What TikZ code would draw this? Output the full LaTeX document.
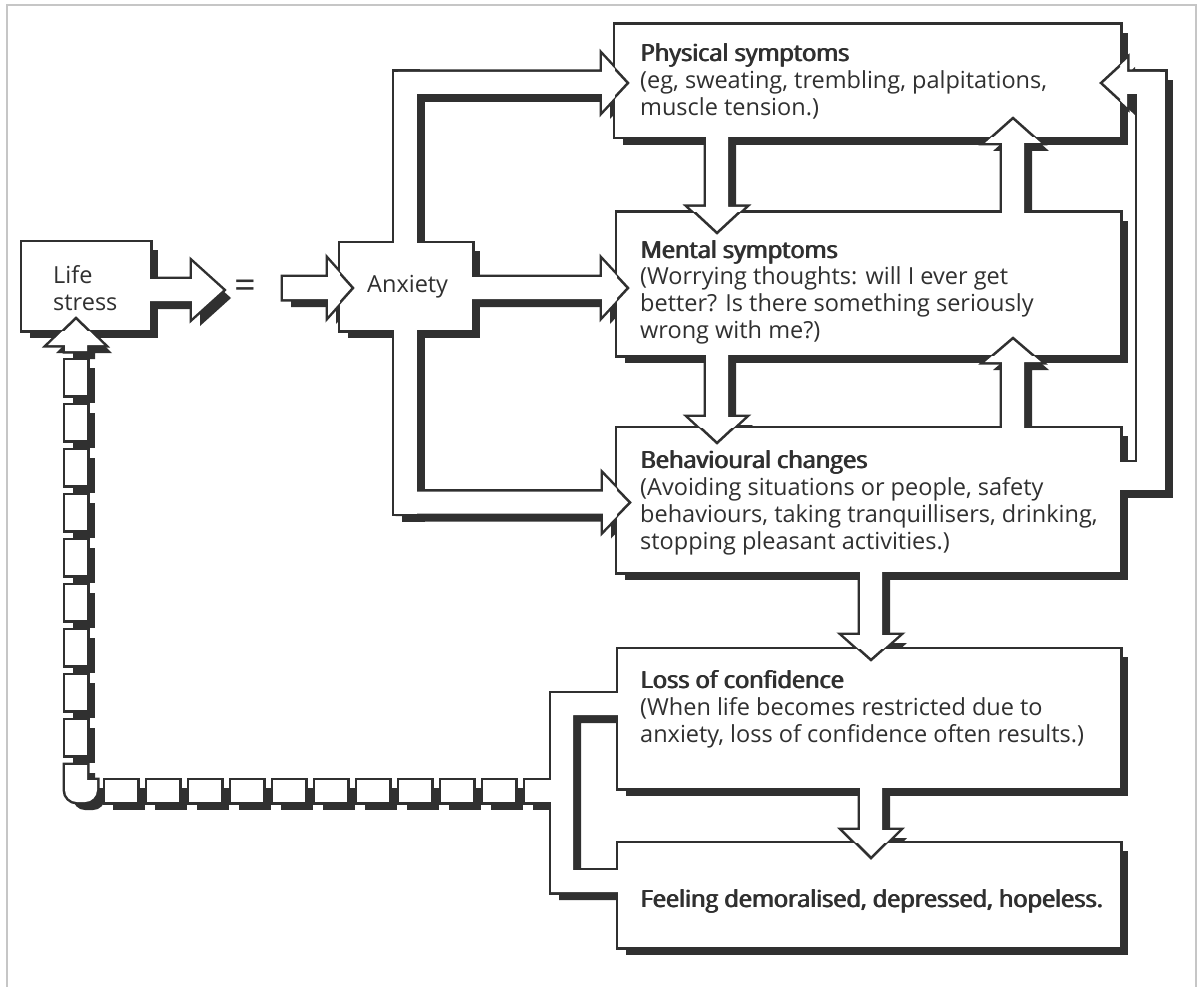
\documentclass[tikz,border=0pt]{standalone}
\usepackage{fontspec}
\setmainfont{Open Sans}
\definecolor{ink}{HTML}{303030}
\def\ArrS{11}\def\ArrH{28}
% vertical block arrow: x centre, y start, y head base, y tip
\newcommand{\varr}[4]{(#1-\ArrS,#2) -- (#1-\ArrS,#3) -- (#1-\ArrH,#3) -- (#1,#4) -- (#1+\ArrH,#3) -- (#1+\ArrS,#3) -- (#1+\ArrS,#2) -- cycle}
% horizontal block arrow: y centre, x start, x head base, x tip
\newcommand{\harr}[4]{(#2,#1-\ArrS) -- (#3,#1-\ArrS) -- (#3,#1-\ArrH) -- (#4,#1) -- (#3,#1+\ArrH) -- (#3,#1+\ArrS) -- (#2,#1+\ArrS) -- cycle}
\newcommand{\headV}[3]{(#1-\ArrH,#2) -- (#1,#3) -- (#1+\ArrH,#2)}
\newcommand{\headH}[3]{(#2,#1-\ArrH) -- (#3,#1) -- (#2,#1+\ArrH)}
% semi-bold titles (regular glyphs set twice, slightly offset)
\newcommand{\ttl}[1]{\rlap{#1}\rlap{\hspace{0.6pt}#1}\hspace{1.2pt}#1}
\newcommand{\allboxes}[1]{%
  \path[#1] (22,242) rectangle (150,330);   % life stress
  \path[#1] (340,243) rectangle (472,330);  % anxiety
  \path[#1] (615,25) rectangle (1120,137);  % physical
  \path[#1] (617,213) rectangle (1120,355); % mental
  \path[#1] (617,428) rectangle (1120,572); % behavioural
  \path[#1] (618,649) rectangle (1120,788); % loss of confidence
  \path[#1] (618,843) rectangle (1120,947); % feeling
}
\newcommand{\alllinks}[1]{%
  \path[#1] \harr{290}{145}{192}{223};
  \path[#1] \harr{288}{283}{328}{353};
  \path[#1] (394,72) rectangle (417,513.5);
  \path[#1] \harr{83}{398}{602}{628};
  \path[#1] \harr{288}{465}{602}{628};
  \path[#1] \harr{502.5}{398}{603}{630};
  \path[#1] \varr{717}{132}{207}{233};
  \path[#1] \varr{717}{350}{417}{443};
  \path[#1] \varr{871}{567}{635}{660};
  \path[#1] \varr{871}{783}{830}{858};
  \path[#1] \varr{1013}{218}{143}{118};
  \path[#1] \varr{1013}{433}{362}{338};
  \path[#1] (1115,462) rectangle (1165,490);
  \path[#1] (1137,72) rectangle (1165,490);
  \def\ArrH{24}\path[#1] \harr{83}{1160}{1127}{1101};\def\ArrH{28}
  \path[#1] (625,693) -- (551,693) -- (551,892) -- (625,892) -- (625,870) -- (573,870) -- (573,715) -- (625,715) -- cycle;
}
\newcommand{\alldashes}[1]{%
  \foreach \yy in {360,405,450,495,540,585,630,675,720}{\path[#1] (65,\yy) rectangle (87,\yy+35);}
  \path[#1] (87,765) -- (65,765) [rounded corners=12] -- (65,802) -- (97,802) [sharp corners] -- (97,780) -- (87,780) -- cycle;
  \foreach \xx in {105,147,189,231,273,315,357,399,441,483}{\path[#1] (\xx,780) rectangle (\xx+32,802);}
  \path[#1] (525,780) rectangle (556,802);
  \path[#1] \varr{76}{351}{345}{318};
}
\tikzset{
  shd/.style={fill=ink, draw=none, shift={(8,8)}},
  outl/.style={draw=ink, line width=5pt, line join=miter},
  wf/.style={fill=white, draw=none},
  vline/.style={draw=ink, line width=2.5pt, line join=miter},
  lbl/.style={anchor=base west, inner sep=0pt, text=ink, font=\fontsize{23.5}{27}\selectfont}
}
\begin{document}
\begin{tikzpicture}[x=1pt,y=-1pt]
\useasboundingbox (0,0) rectangle (1199,987);
\fill[white] (0,0) rectangle (1199,987);
\draw[gray!45, line width=1.5pt] (7,992) -- (7,5) -- (1196,5) -- (1196,992);
% shadows
\allboxes{shd}\alllinks{shd}\alldashes{shd}
% outlines
\allboxes{outl}\alllinks{outl}\alldashes{outl}
% white fills
\allboxes{wf}\alllinks{wf}\alldashes{wf}
% arrow heads reaching into boxes
\begin{scope}\clip (22,242) rectangle (150,330); \draw[vline] \headV{76}{345}{318}; \end{scope}
\begin{scope}\clip (340,243) rectangle (472,330); \draw[vline] \headH{288}{328}{353}; \end{scope}
\begin{scope}\clip (615,25) rectangle (1120,137);
  \draw[vline] \headH{83}{602}{628}; \draw[vline] \headV{1013}{143}{118};
  \def\ArrH{24}\draw[vline] \headH{83}{1127}{1101};\def\ArrH{28}
\end{scope}
\begin{scope}\clip (617,213) rectangle (1120,355);
  \draw[vline] \headH{288}{602}{628}; \draw[vline] \headV{717}{207}{233}; \draw[vline] \headV{1013}{362}{338};
\end{scope}
\begin{scope}\clip (617,428) rectangle (1120,572);
  \draw[vline] \headH{502.5}{603}{630}; \draw[vline] \headV{717}{417}{443};
\end{scope}
\begin{scope}\clip (618,649) rectangle (1120,788); \draw[vline] \headV{871}{635}{660}; \end{scope}
\begin{scope}\clip (618,843) rectangle (1120,947); \draw[vline] \headV{871}{830}{858}; \end{scope}
% texts
\node[lbl] (tlife) at (53,283) {\begin{tabular}[t]{@{}l@{}}Life\\stress\end{tabular}};
\node[lbl, anchor=center, font=\fontsize{38}{38}\selectfont] (teq) at (245,289) {=};
\node[lbl] (tanx) at (367,292) {Anxiety};
\node[lbl] (tphys) at (640,62) {\begin{tabular}[t]{@{}l@{}}\ttl{Physical symptoms}\\(eg, sweating, trembling, palpitations,\\muscle tension.)\end{tabular}};
\node[lbl] (tment) at (640,258) {\begin{tabular}[t]{@{}l@{}}\ttl{Mental symptoms}\\(Worrying thoughts: will I ever get\\better? Is there something seriously\\wrong with me?)\end{tabular}};
\node[lbl] (tbeh) at (640,468) {\begin{tabular}[t]{@{}l@{}}\ttl{Behavioural changes}\\(Avoiding situations or people, safety\\behaviours, taking tranquillisers, drinking,\\stopping pleasant activities.)\end{tabular}};
\node[lbl] (tloss) at (640,688) {\begin{tabular}[t]{@{}l@{}}\ttl{Loss of confidence}\\(When life becomes restricted due to\\anxiety, loss of confidence often results.)\end{tabular}};
\node[lbl] (tfeel) at (640,907) {\ttl{Feeling demoralised, depressed, hopeless.}};
\end{tikzpicture}
\end{document}
